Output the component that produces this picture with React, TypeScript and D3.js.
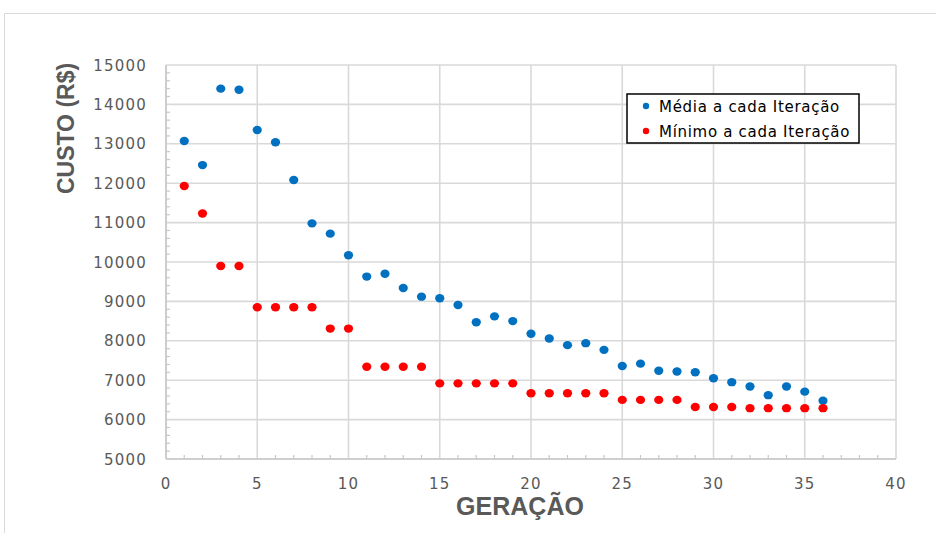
import React from "react";
import * as d3 from "d3";

// Generation number for each iteration
const geracao = [1, 2, 3, 4, 5, 6, 7, 8, 9, 10, 11, 12, 13, 14, 15, 16, 17, 18, 19, 20, 21, 22, 23, 24, 25, 26, 27, 28, 29, 30, 31, 32, 33, 34, 35, 36];

// Average cost of the population at each iteration
const media = [13070, 12460, 14400, 14370, 13350, 13040, 12080, 10980, 10720, 10170, 9630, 9700, 9340, 9120, 9080, 8910, 8470, 8620, 8500, 8180, 8060, 7890, 7940, 7770, 7360, 7420, 7240, 7220, 7200, 7050, 6950, 6840, 6620, 6840, 6710, 6480];

// Minimum cost found at each iteration
const minimo = [11930, 11230, 9900, 9900, 8850, 8850, 8850, 8850, 8310, 8310, 7340, 7340, 7340, 7340, 6920, 6920, 6920, 6920, 6920, 6670, 6670, 6670, 6670, 6670, 6500, 6500, 6500, 6500, 6320, 6320, 6320, 6290, 6290, 6290, 6290, 6290];

const xTicks = [0, 5, 10, 15, 20, 25, 30, 35, 40];
const yTicks = [5000, 6000, 7000, 8000, 9000, 10000, 11000, 12000, 13000, 14000, 15000];

const seriesLabels = ["Média a cada Iteração", "Mínimo a cada Iteração"];
const seriesColors = ["#0070C0", "#FF0000"];

const W = 936;
const H = 533;
const plot = { left: 166, right: 896, top: 65, bottom: 459 };

export default function App() {
  const x = d3.scaleLinear().domain([0, 40]).range([plot.left, plot.right]);
  const y = d3.scaleLinear().domain([5000, 15000]).range([plot.bottom, plot.top]);

  const xMinor = d3.range(0, 41).filter((v) => v % 5 !== 0);
  const yMinor = d3.range(5000, 15001, 200).filter((v) => v % 1000 !== 0);

  const grid = "#d9d9d9";
  const axisText = "#595959";
  const tickFont = "'DejaVu Sans', sans-serif";

  const series = [media, minimo];

  return (
    <svg
      width={W}
      height={H}
      style={{ position: "absolute", left: 0, top: 0, background: "#fff" }}
    >
      {/* chart frame */}
      <line x1={4.5} y1={13.5} x2={W} y2={13.5} stroke={grid} strokeWidth={1} />
      <line x1={4.5} y1={13.5} x2={4.5} y2={H} stroke={grid} strokeWidth={1} />

      {/* gridlines */}
      {yTicks.map((t) => (
        <line key={"gy" + t} x1={plot.left} x2={plot.right} y1={y(t)} y2={y(t)} stroke={grid} strokeWidth={1.6} />
      ))}
      {xTicks.map((t) => (
        <line key={"gx" + t} x1={x(t)} x2={x(t)} y1={plot.top} y2={plot.bottom} stroke={grid} strokeWidth={1.6} />
      ))}
      {/* axis lines */}
      <line x1={plot.left} x2={plot.right} y1={plot.bottom} y2={plot.bottom} stroke="#c8c8c8" strokeWidth={1.6} />
      <line x1={plot.left} x2={plot.left} y1={plot.top} y2={plot.bottom} stroke="#c8c8c8" strokeWidth={1.6} />

      {/* minor ticks */}
      {xMinor.map((t) => (
        <line key={"mx" + t} x1={x(t)} x2={x(t)} y1={plot.bottom} y2={plot.bottom - 4} stroke="#c8c8c8" strokeWidth={1.2} />
      ))}
      {yMinor.map((t) => (
        <line key={"my" + t} x1={plot.left} x2={plot.left + 4} y1={y(t)} y2={y(t)} stroke="#c8c8c8" strokeWidth={1.2} />
      ))}

      {/* tick labels */}
      {yTicks.map((t) => (
        <text
          key={"ly" + t}
          x={147}
          y={y(t) + 5.5}
          textAnchor="end"
          fontFamily={tickFont}
          fontSize={15}
          letterSpacing={1.2}
          fill={axisText}
        >
          {t}
        </text>
      ))}
      {xTicks.map((t) => (
        <text
          key={"lx" + t}
          x={x(t)}
          y={488.5}
          textAnchor="middle"
          fontFamily={tickFont}
          fontSize={15}
          letterSpacing={1.2}
          fill={axisText}
        >
          {t}
        </text>
      ))}

      {/* axis titles */}
      <text
        x={520}
        y={515}
        textAnchor="middle"
        fontFamily="'Liberation Sans', Arial, sans-serif"
        fontWeight="bold"
        fontSize={25}
        fill={axisText}
      >
        GERAÇÃO
      </text>
      <text
        transform="translate(74,128.5) rotate(-90)"
        textAnchor="middle"
        fontFamily="'Liberation Sans', Arial, sans-serif"
        fontWeight="bold"
        fontSize={23}
        fill={axisText}
      >
        CUSTO (R$)
      </text>

      {/* points */}
      {series.map((vals, si) => (
        <g key={"s" + si}>
          {vals.map((v, i) => (
            <ellipse key={i} cx={x(geracao[i])} cy={y(v)} rx={4.6} ry={4.2} fill={seriesColors[si]} />
          ))}
        </g>
      ))}

      {/* legend */}
      <rect x={627} y={94} width={232} height={49} fill="#fff" stroke="#000" strokeWidth={1.5} />
      {seriesLabels.map((lab, i) => (
        <g key={"lg" + i}>
          <circle cx={646} cy={106 + i * 25} r={3.2} fill={seriesColors[i]} />
          <text
            x={659}
            y={111.7 + i * 25}
            fontFamily={tickFont}
            fontSize={15}
            letterSpacing={0.7}
            fill="#000"
          >
            {lab}
          </text>
        </g>
      ))}
    </svg>
  );
}
